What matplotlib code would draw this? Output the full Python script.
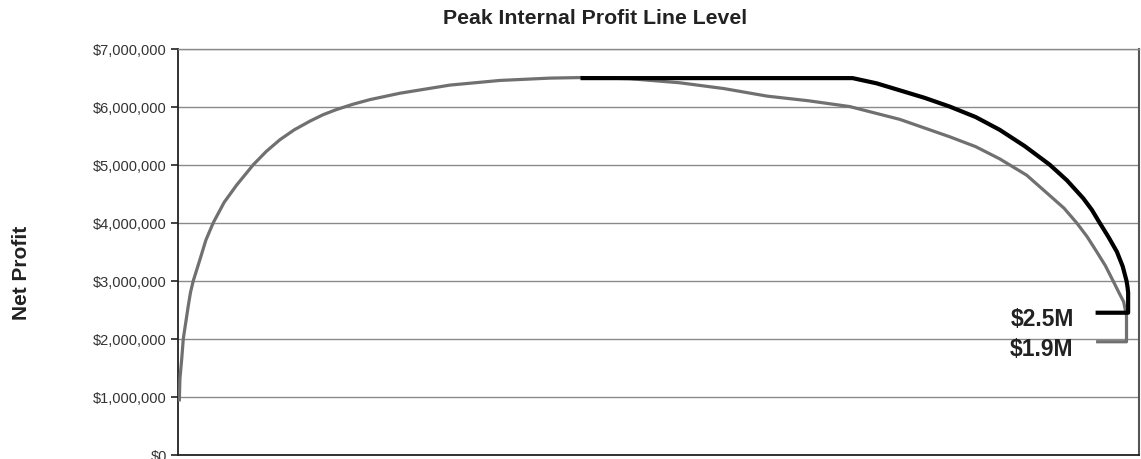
import matplotlib
matplotlib.use("Agg")
import matplotlib.pyplot as plt
from matplotlib.ticker import FuncFormatter, MultipleLocator

# time axis runs 0..100 (share of the planning horizon), profit in $M
internal_x = [0.14, 0.2, 0.39, 0.55, 1.07, 1.3, 1.59, 2.29, 2.9, 3.67, 4.8, 6.11, 7.84,
              9.2, 10.61, 12.1, 13.74, 15.1, 16.51, 18.2, 19.98, 23.1, 28.3, 33.5,
              38.7, 42.1, 47.0, 52.2, 56.8, 61.3, 65.6, 69.9, 75.1, 80.3, 83.0, 85.5,
              88.3, 90.7, 92.2, 93.5, 94.6, 95.6, 96.5, 97.3, 97.9, 98.4, 98.7]
internal_profit = [0.95, 1.31, 1.66, 2.0, 2.57, 2.8, 3.0, 3.37, 3.7, 4.0, 4.35, 4.65, 5.0,
                   5.23, 5.43, 5.6, 5.75, 5.86, 5.95, 6.04, 6.12, 6.23, 6.37, 6.45,
                   6.49, 6.5, 6.48, 6.41, 6.31, 6.18, 6.1, 6.0, 5.78, 5.48, 5.31, 5.1,
                   4.82, 4.47, 4.25, 4.0, 3.76, 3.5, 3.26, 3.0, 2.8, 2.64, 2.4]

peak_x = [42.1, 70.2, 72.7, 75.1, 77.7, 80.3, 83.0, 85.5, 88.1, 90.7, 92.5, 94.2,
          95.1, 95.9, 96.8, 97.7, 98.3, 98.7, 98.8, 98.87]
peak_profit = [6.49, 6.49, 6.40, 6.28, 6.15, 6.0, 5.82, 5.6, 5.32, 5.0, 4.73, 4.42,
               4.22, 4.0, 3.76, 3.5, 3.25, 3.0, 2.9, 2.8]

# final values, marked with a short stub and a label
internal_final = 1.95
peak_final = 2.45
internal_label = "$1.9M"
peak_label = "$2.5M"
stub_x = 95.7

y_ticks_max = 7


def dollars(v, pos):
    return "${0:,.0f}".format(v * 1e6)


def plot_with_stub(ax, xs, ys, final, label, color, lw, label_dy):
    end_x = xs[-1]
    px = list(xs) + [end_x, stub_x]
    py = list(ys) + [final, final]
    ax.plot(px, py, color=color, linewidth=lw, solid_joinstyle='round', zorder=3)
    ax.text(stub_x - 2.5, final + label_dy, label, ha='right', va='center',
            fontsize=16.5, fontweight='bold', color='#222222', zorder=4)


plt.rcParams['font.family'] = ['Liberation Sans', 'DejaVu Sans']

fig = plt.figure(figsize=(11.41, 4.6), dpi=100)
ax = fig.add_axes([178 / 1141, 4 / 460, 961 / 1141, 406.5 / 460])

plot_with_stub(ax, internal_x, internal_profit, internal_final, internal_label,
               '#707070', 2.3, -0.12)
plot_with_stub(ax, peak_x, peak_profit, peak_final, peak_label,
               '#000000', 3.0, -0.1)

ax.set_xlim(0, 100)
ax.set_ylim(0, y_ticks_max)
ax.set_xticks([])
ax.yaxis.set_major_locator(MultipleLocator(1))
ax.yaxis.set_major_formatter(FuncFormatter(dollars))
ax.tick_params(axis='y', direction='out', length=5, width=1.2, pad=3,
               labelsize=10.5, labelcolor='#333333', color='#222222')
ax.grid(axis='y', color='#8a8a8a', linestyle='-', linewidth=1.0, zorder=0)
ax.set_axisbelow(True)

ax.spines['left'].set_color('#222222')
ax.spines['left'].set_linewidth(1.3)
ax.spines['bottom'].set_color('#222222')
ax.spines['bottom'].set_linewidth(1.3)
ax.spines['right'].set_color('#555555')
ax.spines['right'].set_linewidth(1.5)
ax.spines['top'].set_color('#8a8a8a')
ax.spines['top'].set_linewidth(1.0)

fig.text(22 / 1141, 1 - 273 / 460, "Net Profit", rotation=90, ha='center', va='center',
         fontsize=15, fontweight='bold', color='#222222')
fig.text(595 / 1141, 1 - 19 / 460, "Peak Internal Profit Line Level", ha='center',
         va='center', fontsize=15.3, fontweight='bold', color='#222222')

plt.savefig("out.png", dpi=100)
